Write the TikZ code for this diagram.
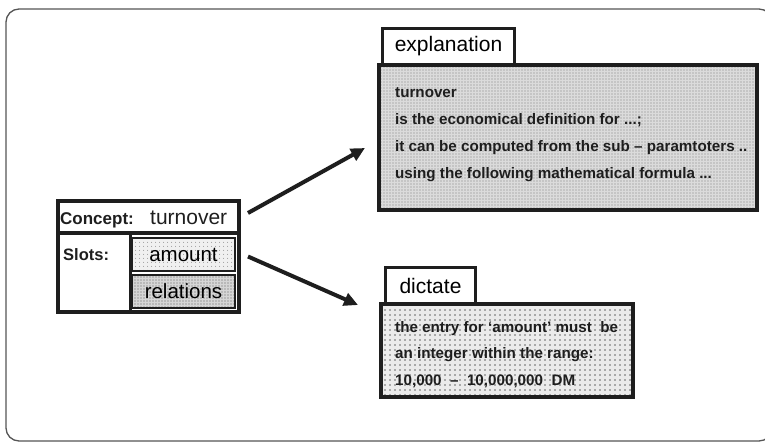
\documentclass[tikz,border=0pt]{standalone}
\usepackage{fontspec}
\setmainfont{Liberation Sans}
\usetikzlibrary{arrows.meta,patterns.meta}

\definecolor{ink}{HTML}{1E1E1E}
\definecolor{framegray}{HTML}{555555}

\tikzset{
  frameline/.style={draw=framegray, line width=1.3pt, rounded corners=13pt},
  heavybox/.style={draw=ink, line width=4pt, inner sep=0pt, minimum width=#1},
  tabbox/.style={draw=ink, line width=3pt, fill=white, inner sep=0pt,
                 font=\fontsize{21}{21}\selectfont},
  slotbox/.style={draw=ink, line width=1.3pt, inner sep=0pt,
                  minimum width=103pt, minimum height=33pt,
                  font=\fontsize{20.5}{20.5}\selectfont},
  densedots/.style={preaction={fill=black!14},
                    pattern={Dots[distance=3pt,radius=0.55pt]}, pattern color=black!50},
  coarsedots/.style={preaction={fill=black!8},
                     pattern={Dots[distance=5pt,radius=0.8pt]}, pattern color=black!60},
  lightdots/.style={preaction={fill=black!6},
                    pattern={Dots[distance=4pt,radius=0.6pt]}, pattern color=black!50},
  darkdots/.style={preaction={fill=black!16},
                   pattern={Dots[distance=3pt,radius=0.65pt]}, pattern color=black!65},
  bodytext/.style={anchor=north west, inner sep=0pt, align=left, text=ink,
                   font=\bfseries\fontsize{15.2}{27}\selectfont},
  link/.style={draw=ink, line width=4pt,
               -{Triangle[length=14pt,width=13pt]}},
}

\begin{document}
\begin{tikzpicture}[x=1pt, y=-1pt]
  \clip (0,0) rectangle (765,445);

  % outer rounded frame (runs past the right edge)
  \draw[frameline] (6,9) rectangle (772,441);

  % ---- concept frame ----
  \node[heavybox=181pt, minimum height=111pt] (concept) at (148.5,256.5) {};
  \node[heavybox=181pt, minimum height=32pt] (title) at (148.5,217) {};
  \draw[ink, line width=3pt] (130,233) -- (130,312);
  \node[anchor=base west, inner sep=0pt, text=ink,
        font=\bfseries\fontsize{17}{17}\selectfont] (conlbl) at (60,224) {Concept:};
  \node[anchor=base west, inner sep=0pt, text=ink,
        font=\fontsize{21}{21}\selectfont] (conname) at (150,224) {turnover};
  \node[anchor=base west, inner sep=0pt, text=ink,
        font=\bfseries\fontsize{16.5}{16.5}\selectfont] (slotlbl) at (63,260) {Slots:};
  \node[slotbox, lightdots] (amount) at (183.5,254.5) {amount};
  \node[slotbox, darkdots] (relations) at (183.5,291.5) {relations};

  % ---- explanation facet ----
  \node[heavybox=378pt, minimum height=145pt, densedots] (expl) at (568,137.5) {};
  \node[tabbox, minimum width=132pt, minimum height=36pt] (expltab) at (448.5,46.5) {explanation};
  \node[bodytext] (expltext) at (395,87) {turnover\\
    is the economical definition for ...;\\
    it can be computed from the sub -- paramtoters ..\\
    using the following mathematical formula ...};

  % ---- dictate facet ----
  \node[heavybox=252pt, minimum height=93pt, coarsedots] (dict) at (507,350.5) {};
  \node[tabbox, minimum width=90pt, minimum height=36pt] (dicttab) at (430.5,285.5) {dictate};
  \node[bodytext, font=\bfseries\fontsize{15.2}{26.5}\selectfont] (dicttext) at (395,321)
    {the entry for `amount' must \ be\\
     an integer within the range:\\
     10,000 \ -- \ 10,000,000 \ DM};

  % ---- links from the concept to its facets ----
  \coordinate (explin) at (365,148);
  \coordinate (dictin) at (358,305);
  \draw[link] ([xshift=7pt, yshift=4pt]title.east) -- (explin);
  \draw[link] ([xshift=7pt]concept.east) -- (dictin);
\end{tikzpicture}
\end{document}
